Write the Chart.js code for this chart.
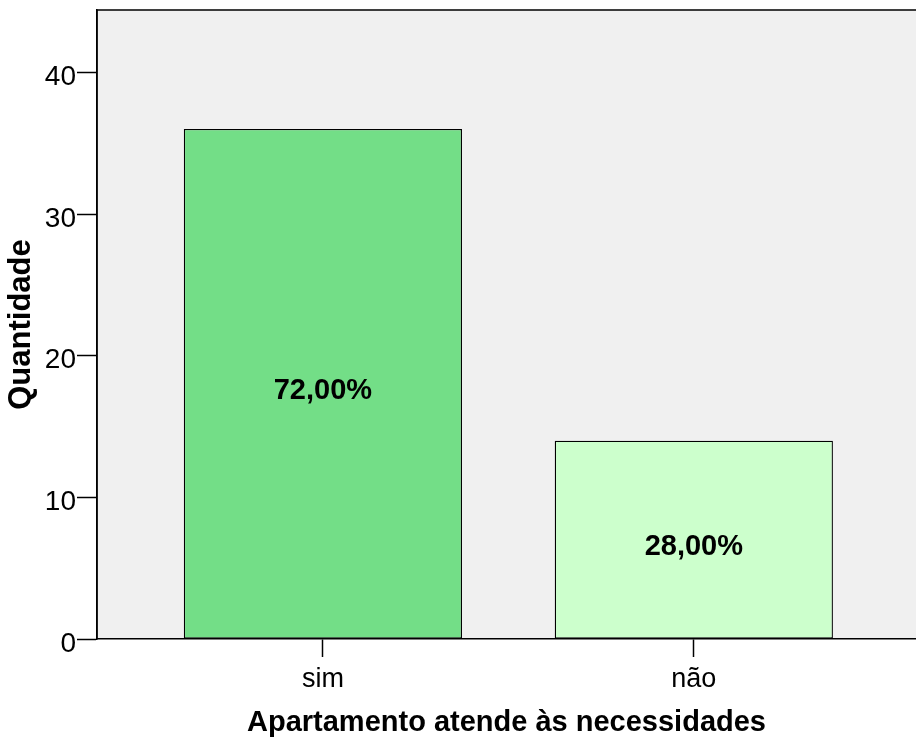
<!DOCTYPE html>
<html>
<head>
    <title>Apartamento atende às necessidades</title>
    <script src="https://cdn.jsdelivr.net/npm/chart.js@4.4.0/dist/chart.umd.min.js"></script>
    <style>
        body { margin: 0; background: #fff; overflow: hidden; }
        .chart-box { position: relative; width: 916px; height: 740px; }
    </style>
</head>
<body>
    <div class="chart-box">
        <canvas id="barChart"></canvas>
    </div>

    <script>
        // categories and counts
        const categories = ['sim', 'não'];
        const counts = [36, 14];
        const barColors = ['#73de87', '#ccffcc'];
        const yTicks = [0, 10, 20, 30, 40];

        const total = counts.reduce((a, b) => a + b, 0);
        const FONT = '"Liberation Sans", Arial, sans-serif';

        // grey plot background with top and left frame lines
        const plotFrame = {
            id: 'plotFrame',
            beforeDraw(chart) {
                const { ctx, chartArea: a } = chart;
                ctx.save();
                ctx.fillStyle = '#f0f0f0';
                ctx.fillRect(a.left, a.top, a.right - a.left, a.bottom - a.top);
                ctx.strokeStyle = '#000';
                ctx.lineWidth = 1.5;
                ctx.beginPath();
                ctx.moveTo(a.left, a.bottom);
                ctx.lineTo(a.left, a.top);
                ctx.lineTo(a.right, a.top);
                ctx.stroke();
                ctx.restore();
            }
        };

        // percentage label in the middle of each bar
        const pctLabels = {
            id: 'pctLabels',
            afterDatasetsDraw(chart) {
                const { ctx } = chart;
                const meta = chart.getDatasetMeta(0);
                ctx.save();
                ctx.font = 'bold 29px ' + FONT;
                ctx.fillStyle = '#000';
                ctx.textAlign = 'center';
                ctx.textBaseline = 'middle';
                meta.data.forEach((bar, i) => {
                    const pct = (counts[i] / total * 100).toFixed(2).replace('.', ',') + '%';
                    ctx.fillText(pct, bar.x, (bar.y + bar.base) / 2 + 7);
                });
                ctx.restore();
            }
        };

        const ctx = document.getElementById('barChart').getContext('2d');

        const barChart = new Chart(ctx, {
            type: 'bar',
            data: {
                datasets: [{
                    data: counts.map((v, i) => ({ x: i + 1, y: v })),
                    backgroundColor: barColors,
                    borderColor: '#000',
                    borderWidth: 1.3,
                    borderSkipped: false,
                    categoryPercentage: 1,
                    barPercentage: 0.75
                }]
            },
            options: {
                responsive: true,
                maintainAspectRatio: false,
                animation: false,
                layout: { padding: { top: 10, right: 0, left: 0, bottom: 0 } },
                plugins: {
                    legend: { display: false },
                    tooltip: { enabled: false }
                },
                scales: {
                    x: {
                        type: 'linear',
                        offset: false,
                        min: 0.391,
                        max: 2.599,
                        afterBuildTicks: s => { s.ticks = categories.map((c, i) => ({ value: i + 1 })); },
                        afterFit: s => { s.height = 101; s.paddingLeft = 0; s.paddingRight = 0; },
                        ticks: {
                            callback: v => categories[v - 1],
                            color: '#000',
                            font: { family: FONT, size: 27 },
                            padding: 6,
                            maxRotation: 0
                        },
                        grid: {
                            offset: false,
                            drawOnChartArea: false,
                            tickLength: 18,
                            tickColor: '#000',
                            tickWidth: 1.5
                        },
                        border: { display: true, color: '#000', width: 1.5 },
                        title: {
                            display: true,
                            text: 'Apartamento atende às necessidades',
                            color: '#000',
                            font: { family: FONT, size: 29, weight: 'bold' },
                            padding: { top: 0, bottom: 0 }
                        }
                    },
                    y: {
                        min: 0,
                        max: 44.4,
                        afterBuildTicks: s => { s.ticks = yTicks.map(v => ({ value: v })); },
                        afterFit: s => { s.width = 97; s.paddingTop = 0; s.paddingBottom = 0; },
                        ticks: {
                            color: '#000',
                            font: { family: FONT, size: 28 },
                            padding: 1,
                            labelOffset: 5
                        },
                        grid: {
                            drawOnChartArea: false,
                            tickLength: 20,
                            tickColor: '#000',
                            tickWidth: 1.5
                        },
                        border: { display: true, color: '#000', width: 1.5 },
                        title: {
                            display: true,
                            text: 'Quantidade',
                            color: '#000',
                            font: { family: FONT, size: 31, weight: 'bold' },
                            padding: { top: 3, bottom: 0 }
                        }
                    }
                }
            },
            plugins: [plotFrame, pctLabels]
        });
    </script>
</body>
</html>
